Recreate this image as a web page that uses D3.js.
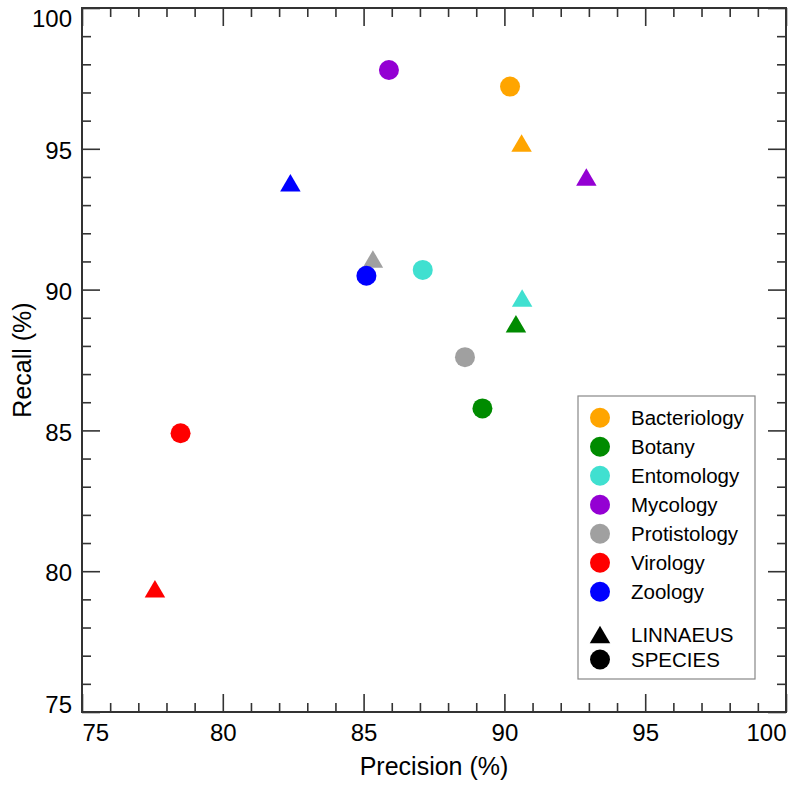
<!DOCTYPE html>
<html>
<head>
<meta charset="utf-8">
<script src="https://cdn.jsdelivr.net/npm/d3@7"></script>
<style>
html,body{margin:0;padding:0;background:#fff;}
svg{display:block;}
text{font-family:"Liberation Sans",Arial,Helvetica,sans-serif;fill:#000;}
</style>
</head>
<body>
<svg id="chart" width="796" height="789"></svg>
<script>
const categories = ["Bacteriology","Botany","Entomology","Mycology","Protistology","Virology","Zoology"];
const colors = ["#FFA500","#008B00","#40E0D0","#9400D3","#A0A0A0","#FF0000","#0000FF"];
const linnaeusPrecision = [90.61, 90.41, 90.63, 92.91, 85.33, 77.59, 82.40];
const linnaeusRecall    = [95.21, 88.79, 89.70, 94.00, 91.09, 79.38, 93.79];
const speciesPrecision  = [90.20, 89.22, 87.10, 85.90, 88.60, 78.50, 85.10];
const speciesRecall     = [97.21, 85.78, 90.70, 97.80, 87.60, 84.90, 90.49];
const majorTicks = [75, 80, 85, 90, 95, 100];
const minorTicks = d3.range(76, 100).filter(v => v % 5 !== 0);
const methods = ["LINNAEUS","SPECIES"];

const svg = d3.select("#chart");
const L = 82, R = 786, T = 8, B = 712;
const x = d3.scaleLinear().domain([75,100]).range([L,R]);
const y = d3.scaleLinear().domain([75,100]).range([B,T]);
const axisColor = "#333";

function styleAxis(g){
  g.select(".domain").remove();
  g.selectAll(".tick line").attr("stroke", axisColor).attr("stroke-width", 1.6);
  g.selectAll(".tick text").style("font-size","24px").attr("fill","#000");
}

// bottom
svg.append("g").attr("transform",`translate(0,${B})`)
  .call(d3.axisBottom(x).tickValues(majorTicks).tickSize(-18).tickPadding(12).tickFormat(d3.format("d")))
  .call(styleAxis)
  .call(g => {
    g.selectAll(".tick text").filter(d => d === 75).attr("text-anchor","start");
    g.selectAll(".tick text").filter(d => d === 100).attr("text-anchor","end");
  });
svg.append("g").attr("transform",`translate(0,${B})`)
  .call(d3.axisBottom(x).tickValues(minorTicks).tickSize(-9).tickFormat(""))
  .call(styleAxis);
// top
svg.append("g").attr("transform",`translate(0,${T})`)
  .call(d3.axisTop(x).tickValues(majorTicks).tickSize(-18).tickFormat(""))
  .call(styleAxis);
svg.append("g").attr("transform",`translate(0,${T})`)
  .call(d3.axisTop(x).tickValues(minorTicks).tickSize(-9).tickFormat(""))
  .call(styleAxis);
// left
svg.append("g").attr("transform",`translate(${L},0)`)
  .call(d3.axisLeft(y).tickValues(majorTicks).tickSize(-18).tickPadding(10).tickFormat(d3.format("d")))
  .call(styleAxis)
  .call(g => {
    g.selectAll(".tick text").attr("dy","0.4em");
    g.selectAll(".tick text").filter(d => d === 100).attr("dy","0.71em").attr("y",1);
    g.selectAll(".tick text").filter(d => d === 75).attr("dy","0em");
  });
svg.append("g").attr("transform",`translate(${L},0)`)
  .call(d3.axisLeft(y).tickValues(minorTicks).tickSize(-9).tickFormat(""))
  .call(styleAxis);
// right
svg.append("g").attr("transform",`translate(${R},0)`)
  .call(d3.axisRight(y).tickValues(majorTicks).tickSize(-18).tickFormat(""))
  .call(styleAxis);
svg.append("g").attr("transform",`translate(${R},0)`)
  .call(d3.axisRight(y).tickValues(minorTicks).tickSize(-9).tickFormat(""))
  .call(styleAxis);

// frame
svg.append("rect").attr("x",L).attr("y",T).attr("width",R-L).attr("height",B-T)
  .attr("fill","none").attr("stroke",axisColor).attr("stroke-width",2);

// axis titles
svg.append("text").attr("x",(L+R)/2).attr("y",775).attr("text-anchor","middle")
  .style("font-size","25px").text("Precision (%)");
svg.append("text").attr("transform",`translate(31,${(T+B)/2}) rotate(-90)`).attr("text-anchor","middle")
  .style("font-size","25px").text("Recall (%)");

// markers
const triW = 20.5, triH = 17.5;
function triPath(cx, cy){
  return `M${cx},${cy-triH/2}L${cx+triW/2},${cy+triH/2}L${cx-triW/2},${cy+triH/2}Z`;
}
const plot = svg.append("g");
plot.selectAll("path.linn").data(categories).join("path").attr("class","linn")
  .attr("d",(d,i)=>triPath(x(linnaeusPrecision[i]), y(linnaeusRecall[i])))
  .attr("fill",(d,i)=>colors[i]);
plot.selectAll("circle.spec").data(categories).join("circle").attr("class","spec")
  .attr("cx",(d,i)=>x(speciesPrecision[i])).attr("cy",(d,i)=>y(speciesRecall[i]))
  .attr("r",10).attr("fill",(d,i)=>colors[i]);

// legend
const lg = svg.append("g");
lg.append("rect").attr("x",578).attr("y",396).attr("width",177).attr("height",283)
  .attr("fill","#fff").attr("stroke","#888").attr("stroke-width",1.2);
const rowY = i => 417.7 + 29*i;
const mx = 600, tx = 631;
categories.forEach((c,i)=>{
  lg.append("circle").attr("cx",mx).attr("cy",rowY(i)).attr("r",10).attr("fill",colors[i]);
  lg.append("text").attr("x",tx).attr("y",rowY(i)).attr("dy","0.35em")
    .style("font-size","20.5px").text(c);
});
const mY = [634.5, 659.5];
lg.append("path").attr("d",triPath(mx, mY[0])).attr("fill","#000");
lg.append("circle").attr("cx",mx).attr("cy",mY[1]).attr("r",10).attr("fill","#000");
methods.forEach((m,i)=>{
  lg.append("text").attr("x",tx).attr("y",mY[i]).attr("dy","0.35em")
    .style("font-size","20.5px").text(m);
});
</script>
</body>
</html>
